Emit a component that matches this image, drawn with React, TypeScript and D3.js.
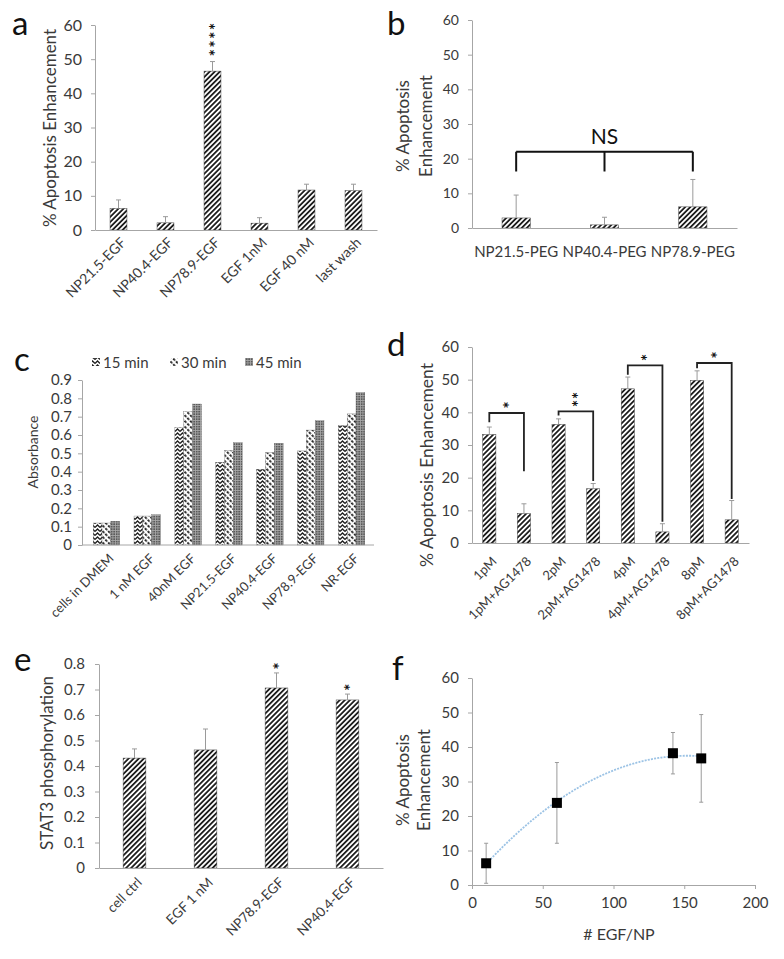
import React, { useEffect, useRef } from "react";
import * as d3 from "d3";

const FONT = "Lato, 'Open Sans', Arial, sans-serif";
const AXIS = "#a6a6a6";
const TXT = "#3a3a3a";
const ERR = "#9a9a9a";

// ---------- panel a ----------
const aCategories = ["NP21.5-EGF", "NP40.4-EGF", "NP78.9-EGF", "EGF 1nM", "EGF 40 nM", "last wash"];
const aValues = [6.3, 2.1, 46.5, 2.0, 11.7, 11.5];
const aErrors = [2.5, 1.8, 2.8, 1.6, 1.7, 1.9];
const aStars = [0, 0, 4, 0, 0, 0];
const aTicks = [0, 10, 20, 30, 40, 50, 60];

// ---------- panel b ----------
const bCategories = ["NP21.5-PEG", "NP40.4-PEG", "NP78.9-PEG"];
const bValues = [2.9, 0.9, 6.1];
const bErrors = [6.6, 2.2, 7.9];
const bTicks = [0, 10, 20, 30, 40, 50, 60];
const bBracketLevel = 22;
const bBracketLegEnd = 16.3;
const bBracketLabel = "NS";

// ---------- panel c ----------
const cCategories = ["cells in DMEM", "1 nM EGF", "40nM EGF", "NP21.5-EGF", "NP40.4-EGF", "NP78.9-EGF", "NR-EGF"];
const cSeries = ["15 min", "30 min", "45 min"];
const c15 = [0.12, 0.158, 0.64, 0.451, 0.413, 0.513, 0.651];
const c30 = [0.12, 0.158, 0.727, 0.515, 0.504, 0.627, 0.715];
const c45 = [0.13, 0.165, 0.769, 0.558, 0.555, 0.678, 0.831];
const cTicks = [0, 0.1, 0.2, 0.3, 0.4, 0.5, 0.6, 0.7, 0.8, 0.9];

// ---------- panel d ----------
const dCategories = ["1pM", "1pM+AG1478", "2pM", "2pM+AG1478", "4pM", "4pM+AG1478", "8pM", "8pM+AG1478"];
const dValues = [33.2, 9.0, 36.3, 16.6, 47.2, 3.4, 49.8, 7.1];
const dErrors = [2.3, 3.0, 1.7, 1.6, 3.6, 2.5, 2.9, 5.9];
const dBracketLeft = [0, 2, 4, 6];
const dBracketTop = [39.8, 40.3, 54.4, 55.1];
const dBracketLeftEnd = [37, 39, 51.5, 53.5];
const dBracketRightEnd = [22, 19, 6.5, 13.5];
const dBracketStars = [1, 2, 1, 1];
const dTicks = [0, 10, 20, 30, 40, 50, 60];

// ---------- panel e ----------
const eCategories = ["cell ctrl", "EGF 1 nM", "NP78.9-EGF", "NP40.4-EGF"];
const eValues = [0.431, 0.463, 0.706, 0.659];
const eErrors = [0.036, 0.082, 0.059, 0.023];
const eStars = [0, 0, 1, 1];
const eTicks = [0, 0.1, 0.2, 0.3, 0.4, 0.5, 0.6, 0.7, 0.8];

// ---------- panel f ----------
const fX = [10, 60, 142, 162];
const fY = [6.3, 23.8, 38.2, 36.7];
const fErr = [5.8, 11.7, 6.0, 12.7];
const fXTicks = [0, 50, 100, 150, 200];
const fYTicks = [0, 10, 20, 30, 40, 50, 60];

type G = d3.Selection<SVGGElement, unknown, null, undefined>;

function styleAxis(g: G, fs: number) {
  g.select(".domain").attr("stroke", AXIS).attr("stroke-width", 1);
  g.selectAll(".tick line").attr("stroke", AXIS);
  g.selectAll(".tick text").attr("fill", TXT).attr("font-size", fs).attr("font-family", FONT);
}

function yAxis(root: G, x: number, y: d3.ScaleLinear<number, number>, ticks: number[], fmt: (v: number) => string, fs: number, pad = 8) {
  const g = root.append("g").attr("transform", `translate(${x},0)`)
    .call(d3.axisLeft(y).tickValues(ticks).tickFormat(fmt as any).tickSize(4).tickSizeOuter(0).tickPadding(pad) as any) as G;
  styleAxis(g, fs);
}

function xBandAxis(root: G, y0: number, x: d3.ScaleBand<string>, fs: number, dx: number, dy: number) {
  const g = root.append("g").attr("transform", `translate(0,${y0})`)
    .call(d3.axisBottom(x).tickSize(0).tickSizeOuter(0).tickPadding(0) as any) as G;
  styleAxis(g, fs);
  g.selectAll(".tick text")
    .attr("text-anchor", "end").attr("x", 0).attr("y", 0).attr("dy", "0.35em")
    .attr("transform", `translate(${dx},${dy}) rotate(-45)`);
}

function yTitle(root: G, lines: string[], cx: number, cy: number, fs: number, lh: number) {
  lines.forEach((t, i) => {
    const x = cx + (i - (lines.length - 1) / 2) * lh;
    root.append("text").attr("transform", `translate(${x},${cy}) rotate(-90)`)
      .attr("text-anchor", "middle").attr("dy", "0.35em")
      .attr("font-family", FONT).attr("font-size", fs).attr("fill", TXT).text(t);
  });
}

function panelLetter(root: G, t: string, x: number, y: number) {
  root.append("text").attr("x", x).attr("y", y).attr("font-family", FONT).attr("font-size", 33)
    .attr("fill", "#111").text(t);
}

function bars(root: G, cats: string[], vals: number[], errs: number[], x: d3.ScaleBand<string>, y: d3.ScaleLinear<number, number>, fill: string) {
  root.append("g").selectAll("rect").data(vals).join("rect")
    .attr("x", (_, i) => x(cats[i])!)
    .attr("y", (d) => y(d))
    .attr("width", x.bandwidth())
    .attr("height", (d) => y(0) - y(d))
    .attr("fill", fill).attr("stroke", "#444").attr("stroke-width", 0.5);
  const eg = root.append("g").attr("stroke", ERR).attr("stroke-width", 1);
  vals.forEach((v, i) => {
    const cx = x(cats[i])! + x.bandwidth() / 2;
    eg.append("line").attr("x1", cx).attr("x2", cx).attr("y1", y(v)).attr("y2", y(v + errs[i]));
    eg.append("line").attr("x1", cx - 2.5).attr("x2", cx + 2.5).attr("y1", y(v + errs[i])).attr("y2", y(v + errs[i]));
  });
}

// a vertical stack of n asterisks in ONE text element; bottom star centred at (cx, cyBottom)
function starStack(root: G, n: number, cx: number, cyBottom: number, gap: number, fs = 17) {
  const t = root.append("text")
    .attr("transform", `translate(${cx},${cyBottom}) rotate(-90)`)
    .attr("font-family", FONT).attr("font-size", fs).attr("font-weight", "bold").attr("fill", "#111")
    .attr("text-anchor", "middle");
  for (let k = 0; k < n; k++) {
    t.append("tspan").attr("x", k * gap).attr("y", fs * 0.55).text("*");
  }
}

function makePatterns(defs: d3.Selection<SVGDefsElement, unknown, null, undefined>) {
  const s = defs.append("pattern").attr("id", "stripe").attr("patternUnits", "userSpaceOnUse")
    .attr("width", 3.6).attr("height", 3.6).attr("patternTransform", "rotate(45)");
  s.append("rect").attr("width", 3.6).attr("height", 3.6).attr("fill", "#fff");
  s.append("rect").attr("width", 1.8).attr("height", 3.6).attr("fill", "#1e1e1e");

  const z = defs.append("pattern").attr("id", "zig").attr("patternUnits", "userSpaceOnUse")
    .attr("width", 5).attr("height", 4);
  z.append("rect").attr("width", 5).attr("height", 4).attr("fill", "#fff");
  z.append("path").attr("d", "M0,3.5 L2.5,1 L5,3.5").attr("fill", "none").attr("stroke", "#1e1e1e").attr("stroke-width", 1.3);

  const bd = defs.append("pattern").attr("id", "bdiag").attr("patternUnits", "userSpaceOnUse")
    .attr("width", 4).attr("height", 4).attr("patternTransform", "rotate(-45)");
  bd.append("rect").attr("width", 4).attr("height", 4).attr("fill", "#fff");
  bd.append("rect").attr("width", 1.8).attr("height", 2.6).attr("fill", "#1e1e1e");

  const gr = defs.append("pattern").attr("id", "grid").attr("patternUnits", "userSpaceOnUse")
    .attr("width", 2.5).attr("height", 2.5);
  gr.append("rect").attr("width", 2.5).attr("height", 2.5).attr("fill", "#5a5a5a");
  gr.append("rect").attr("width", 2.5).attr("height", 0.8).attr("fill", "#a8a8a8");
  gr.append("rect").attr("width", 0.8).attr("height", 2.5).attr("fill", "#a8a8a8");
}

function quadFit(xs: number[], ys: number[]) {
  // least squares y = a + b x + c x^2 (Excel polynomial trendline)
  const S = (p: number) => d3.sum(xs, (x) => Math.pow(x, p));
  const T = (p: number) => d3.sum(xs, (x, i) => Math.pow(x, p) * ys[i]);
  const M = [[S(0), S(1), S(2), T(0)], [S(1), S(2), S(3), T(1)], [S(2), S(3), S(4), T(2)]];
  for (let i = 0; i < 3; i++) {
    for (let k = i + 1; k < 3; k++) {
      const f = M[k][i] / M[i][i];
      for (let j = i; j < 4; j++) M[k][j] -= f * M[i][j];
    }
  }
  const r = [0, 0, 0];
  for (let i = 2; i >= 0; i--) {
    let s = M[i][3];
    for (let j = i + 1; j < 3; j++) s -= M[i][j] * r[j];
    r[i] = s / M[i][i];
  }
  return (x: number) => r[0] + r[1] * x + r[2] * x * x;
}

export default function App() {
  const ref = useRef<SVGSVGElement>(null);
  useEffect(() => {
    const svg = d3.select(ref.current!);
    svg.selectAll("*").remove();
    makePatterns(svg.append("defs") as any);
    const root = svg.append("g") as unknown as G;
    const fmt0 = (v: number) => d3.format("d")(v);
    const fmt1 = (v: number) => (v === 0 ? "0" : d3.format(".1f")(v));

    // ===== a =====
    {
      const x = d3.scaleBand<string>().domain(aCategories).range([95, 377]).paddingInner(0.64).paddingOuter(0.32);
      const y = d3.scaleLinear().domain([0, 60]).range([230, 25]);
      bars(root, aCategories, aValues, aErrors, x, y, "url(#stripe)");
      yAxis(root, 95, y, aTicks, fmt0, 16, 9);
      xBandAxis(root, y(0), x, 14, 5, 10);
      aStars.forEach((n, i) => {
        if (!n) return;
        const cx = x(aCategories[i])! + x.bandwidth() / 2;
        starStack(root, n, cx, y(aValues[i] + aErrors[i]) - 9, 8.7);
      });
      yTitle(root, ["% Apoptosis Enhancement"], 50, 128, 17, 0);
      panelLetter(root, "a", 12, 35);
    }

    // ===== b =====
    {
      const x = d3.scaleBand<string>().domain(bCategories).range([472, 737]).paddingInner(0.68).paddingOuter(0.34);
      const y = d3.scaleLinear().domain([0, 60]).range([228, 20]);
      bars(root, bCategories, bValues, bErrors, x, y, "url(#stripe)");
      yAxis(root, 472, y, bTicks, fmt0, 14, 9);
      const g = root.append("g").attr("transform", `translate(0,${y(0)})`)
        .call(d3.axisBottom(x).tickSize(0).tickSizeOuter(0).tickPadding(18) as any) as G;
      styleAxis(g, 15);
      const cxs = bCategories.map((c) => x(c)! + x.bandwidth() / 2);
      const br = root.append("g").attr("stroke", "#111").attr("stroke-width", 2).attr("fill", "none");
      br.append("line").attr("x1", cxs[0]).attr("x2", cxs[2]).attr("y1", y(bBracketLevel)).attr("y2", y(bBracketLevel));
      cxs.forEach((cx) => br.append("line").attr("x1", cx).attr("x2", cx).attr("y1", y(bBracketLevel)).attr("y2", y(bBracketLegEnd)));
      root.append("text").attr("x", cxs[1]).attr("y", y(bBracketLevel) - 8).attr("text-anchor", "middle")
        .attr("font-family", FONT).attr("font-size", 21).attr("fill", "#111").text(bBracketLabel);
      yTitle(root, ["% Apoptosis", "Enhancement"], 415, 126, 17, 23);
      panelLetter(root, "b", 387, 35);
    }

    // ===== c =====
    {
      const x = d3.scaleBand<string>().domain(cCategories).range([86, 372]).paddingInner(0.35).paddingOuter(0.175);
      const xs = d3.scaleBand<string>().domain(cSeries).range([0, x.bandwidth()]);
      const y = d3.scaleLinear().domain([0, 0.9]).range([545, 380]);
      const fills = ["url(#zig)", "url(#bdiag)", "url(#grid)"];
      const seriesVals = [c15, c30, c45];
      const bg = root.append("g");
      seriesVals.forEach((vals, s) => {
        bg.append("g").selectAll("rect").data(vals).join("rect")
          .attr("x", (_, i) => x(cCategories[i])! + xs(cSeries[s])!)
          .attr("y", (d) => y(d))
          .attr("width", xs.bandwidth())
          .attr("height", (d) => y(0) - y(d))
          .attr("fill", fills[s]).attr("stroke", "#555").attr("stroke-width", 0.3);
      });
      yAxis(root, 82, y, cTicks, fmt1, 15, 6);
      const g = root.append("g").attr("transform", `translate(0,${y(0)})`)
        .call(d3.axisBottom(x).tickSize(0).tickSizeOuter(0).tickPadding(0) as any) as G;
      styleAxis(g, 13);
      g.select(".domain").attr("d", `M82,0H374`);
      g.selectAll(".tick text").attr("text-anchor", "end").attr("x", 0).attr("y", 0).attr("dy", "0.35em")
        .attr("transform", `translate(5,11) rotate(-45)`);
      // legend
      const lg = root.append("g");
      const lx = [92, 170, 245];
      cSeries.forEach((s, i) => {
        lg.append("rect").attr("x", lx[i]).attr("y", 358).attr("width", 8).attr("height", 8).attr("fill", fills[i]);
        lg.append("text").attr("x", lx[i] + 11).attr("y", 367.5).attr("font-family", FONT).attr("font-size", 15)
          .attr("fill", TXT).text(s);
      });
      yTitle(root, ["Absorbance"], 33, 452, 14, 0);
      panelLetter(root, "c", 14, 371);
    }

    // ===== d =====
    {
      const x = d3.scaleBand<string>().domain(dCategories).range([472, 749]).paddingInner(0.62).paddingOuter(0.31);
      const y = d3.scaleLinear().domain([0, 60]).range([543, 347]);
      bars(root, dCategories, dValues, dErrors, x, y, "url(#stripe)");
      yAxis(root, 472, y, dTicks, fmt0, 15, 9);
      xBandAxis(root, y(0), x, 13, 5, 16);
      const br = root.append("g").attr("stroke", "#222").attr("stroke-width", 1.8).attr("fill", "none");
      dBracketLeft.forEach((li, k) => {
        const x1 = x(dCategories[li])! + x.bandwidth() / 2;
        const x2 = x(dCategories[li + 1])! + x.bandwidth() / 2;
        br.append("path").attr("d", `M${x1},${y(dBracketLeftEnd[k])}V${y(dBracketTop[k])}H${x2}V${y(dBracketRightEnd[k])}`);
        starStack(root, dBracketStars[k], (x1 + x2) / 2, y(dBracketTop[k]) - 8, 8);
      });
      yTitle(root, ["% Apoptosis Enhancement"], 427, 465, 17.5, 0);
      panelLetter(root, "d", 387, 356);
    }

    // ===== e =====
    {
      const x = d3.scaleBand<string>().domain(eCategories).range([99, 383]).paddingInner(0.68).paddingOuter(0.34);
      const y = d3.scaleLinear().domain([0, 0.8]).range([868, 664]);
      bars(root, eCategories, eValues, eErrors, x, y, "url(#stripe)");
      yAxis(root, 99, y, eTicks, fmt1, 15, 10);
      xBandAxis(root, y(0), x, 13.5, 5, 12);
      eStars.forEach((n, i) => {
        if (!n) return;
        const cx = x(eCategories[i])! + x.bandwidth() / 2;
        starStack(root, n, cx, y(eValues[i] + eErrors[i]) - 7, 8);
      });
      yTitle(root, ["STAT3 phosphorylation"], 47, 763, 17, 0);
      panelLetter(root, "e", 14, 671);
    }

    // ===== f =====
    {
      const x = d3.scaleLinear().domain([0, 200]).range([472, 755]);
      const y = d3.scaleLinear().domain([0, 60]).range([885, 678]);
      const gx = root.append("g").attr("transform", `translate(0,${y(0)})`)
        .call(d3.axisBottom(x).tickValues(fXTicks).tickSize(4).tickSizeOuter(0).tickPadding(8) as any) as G;
      styleAxis(gx, 15);
      yAxis(root, 472, y, fYTicks, fmt0, 15, 9);
      const fit = quadFit(fX, fY);
      const pts = d3.range(fX[0], fX[fX.length - 1] + 0.5, 2).map((v) => [x(v), y(fit(v))] as [number, number]);
      root.append("path").attr("d", d3.line().curve(d3.curveBasis)(pts)!).attr("fill", "none")
        .attr("stroke", "#9cc3e5").attr("stroke-width", 1.8).attr("stroke-dasharray", "2,1.2");
      const eg = root.append("g").attr("stroke", ERR).attr("stroke-width", 1);
      fX.forEach((xv, i) => {
        const cx = x(xv);
        eg.append("line").attr("x1", cx).attr("x2", cx).attr("y1", y(fY[i] - fErr[i])).attr("y2", y(fY[i] + fErr[i]));
        [fY[i] - fErr[i], fY[i] + fErr[i]].forEach((v) =>
          eg.append("line").attr("x1", cx - 2).attr("x2", cx + 2).attr("y1", y(v)).attr("y2", y(v)));
      });
      root.append("g").selectAll("rect").data(fX).join("rect")
        .attr("x", (d) => x(d) - 5).attr("y", (_, i) => y(fY[i]) - 5)
        .attr("width", 10).attr("height", 10).attr("fill", "#000");
      root.append("text").attr("x", 619).attr("y", 940).attr("text-anchor", "middle").attr("font-family", FONT)
        .attr("font-size", 16).attr("fill", TXT).text("# EGF/NP");
      yTitle(root, ["% Apoptosis", "Enhancement"], 414, 780, 17, 21);
      panelLetter(root, "f", 392, 680);
    }
  }, []);
  return (
    <svg ref={ref} width={784} height={959}
      style={{ position: "absolute", left: 0, top: 0, background: "#fff" }} />
  );
}
